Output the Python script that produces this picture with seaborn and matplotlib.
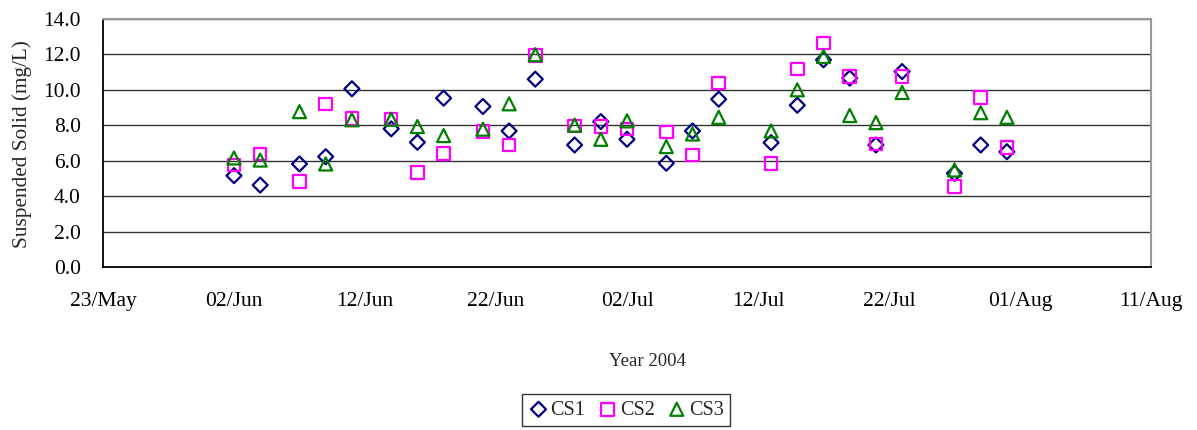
import pandas as pd
import seaborn as sns
import matplotlib.pyplot as plt
import matplotlib.dates as mdates

# sampling dates (2004)
dates = ["2004-06-02", "2004-06-04", "2004-06-07", "2004-06-09", "2004-06-11",
         "2004-06-14", "2004-06-16", "2004-06-18", "2004-06-21", "2004-06-23",
         "2004-06-25", "2004-06-28", "2004-06-30", "2004-07-02", "2004-07-05",
         "2004-07-07", "2004-07-09", "2004-07-13", "2004-07-15", "2004-07-17",
         "2004-07-19", "2004-07-21", "2004-07-23", "2004-07-27", "2004-07-29",
         "2004-07-31"]

cs1 = [5.15, 4.62, 5.81, 6.22, 10.05, 7.79, 7.03, 9.52, 9.05, 7.67, 10.59, 6.88, 8.2,
       7.2, 5.85, 7.67, 9.46, 7.01, 9.12, 11.68, 10.65, 6.88, 11.02, 5.28, 6.88, 6.5]
cs2 = [5.75, 6.37, 4.81, 9.2, 8.37, 8.35, 5.34, 6.41, 7.63, 6.88, 11.93, 7.95, 7.92,
       7.77, 7.6, 6.32, 10.37, 5.85, 11.16, 12.63, 10.74, 6.94, 10.74, 4.53, 9.56, 6.73]
cs3 = [6.15, 6.03, 8.76, 5.81, 8.3, 8.33, 7.92, 7.41, 7.77, 9.2, 11.97, 8.0, 7.2,
       8.24, 6.79, 7.5, 8.44, 7.67, 9.99, 11.87, 8.54, 8.14, 9.84, 5.47, 8.7, 8.44]

series_names = ["CS1", "CS2", "CS3"]
colors = {"CS1": "#000080", "CS2": "#FF00FF", "CS3": "#008000"}
markers = {"CS1": "D", "CS2": "s", "CS3": "^"}
sizes = {"CS1": 58, "CS2": 82, "CS3": 88}

df = pd.DataFrame({
    "date": pd.to_datetime(dates * 3),
    "value": cs1 + cs2 + cs3,
    "station": [n for n in series_names for _ in dates],
})

sns.set_style("white")
plt.rcParams["font.family"] = ["Liberation Serif", "DejaVu Serif"]

fig = plt.figure(figsize=(11.97, 4.30), dpi=100)
ax = fig.add_axes([103 / 1197, 1 - 267 / 430, (1151 - 103) / 1197, (267 - 18.7) / 430])

for name in series_names:
    sub = df[df["station"] == name]
    sns.scatterplot(
        x="date", y="value", data=sub, ax=ax,
        marker=markers[name], s=sizes[name],
        color=colors[name], facecolor="none", edgecolor=colors[name],
        linewidth=1.6, label=name, zorder=3
    )

# axes range / ticks
ax.set_xlim(pd.Timestamp("2004-05-23"), pd.Timestamp("2004-08-11"))
ax.set_ylim(0, 14)
ax.set_yticks(range(0, 15, 2))
ax.yaxis.set_major_formatter(plt.FormatStrFormatter("%.1f"))
ax.set_xticks(pd.date_range("2004-05-23", "2004-08-11", freq="10D"))
ax.xaxis.set_major_formatter(mdates.DateFormatter("%d/%b"))
ax.tick_params(axis="x", direction="in", length=6, width=1, pad=18, labelsize=15.5, colors="black")
ax.tick_params(axis="y", length=0, pad=16, labelsize=15.5, colors="black")
ax.set_xlabel("")
ax.set_ylabel("")

ax.grid(axis="y", color="#333333", linewidth=1)
ax.grid(axis="x", visible=False)
for side in ["left", "bottom"]:
    ax.spines[side].set_color("black")
    ax.spines[side].set_linewidth(1.3)
for side in ["top", "right"]:
    ax.spines[side].set_color("#999999")
    ax.spines[side].set_linewidth(1.5)

fig.text(22 / 1197, 1 - 144 / 430, "Suspended Solid (mg/L)", rotation=90,
         ha="center", va="center", fontsize=15.3)
fig.text(647 / 1197, 1 - 361 / 430, "Year 2004", ha="center", va="center", fontsize=13.5)

handles, labels = ax.get_legend_handles_labels()
ax.get_legend().remove()
leg = fig.legend(handles, labels, loc="center", bbox_to_anchor=(626 / 1197, 1 - 410 / 430),
                 ncol=3, frameon=True, fancybox=False, edgecolor="black",
                 fontsize=14.5, handletextpad=0.1, columnspacing=0.6,
                 handlelength=1.0, borderpad=0.3, borderaxespad=0)
leg.get_frame().set_linewidth(1)

fig.savefig("out.png", dpi=100)
